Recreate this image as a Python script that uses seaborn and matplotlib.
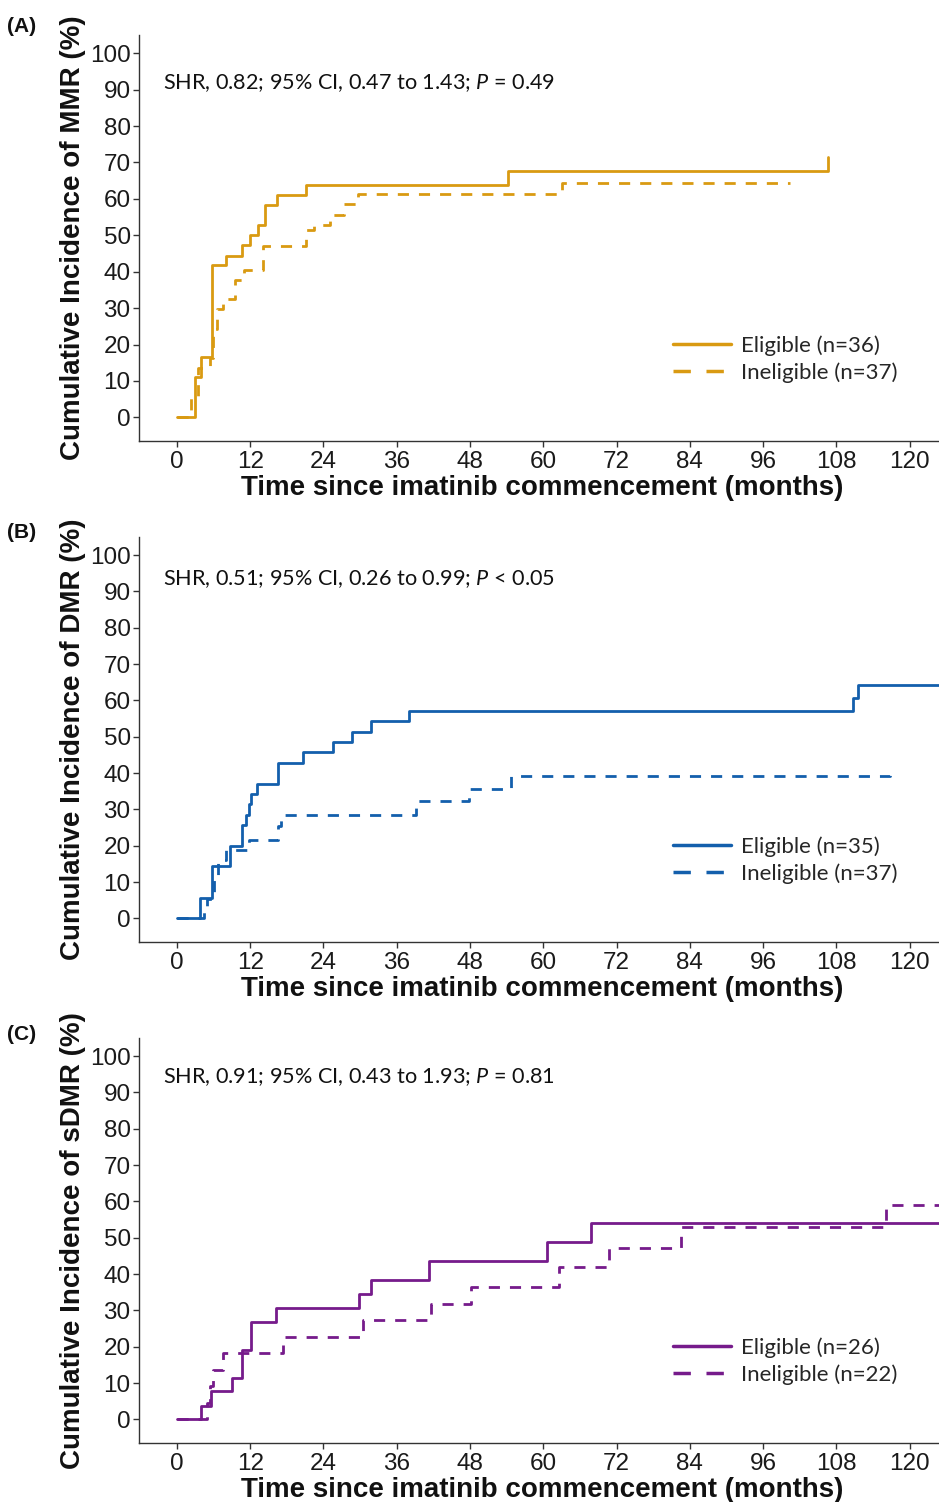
import numpy as np
import pandas as pd
import matplotlib
matplotlib.use("Agg")
import matplotlib.pyplot as plt
from matplotlib.lines import Line2D
import seaborn as sns

# ---------------- data ----------------
month_ticks = [0, 12, 24, 36, 48, 60, 72, 84, 96, 108, 120]
pct_ticks = [0, 10, 20, 30, 40, 50, 60, 70, 80, 90, 100]

# (A) MMR
mmr_elig_t = [0, 2.9, 4.0, 5.7, 8.1, 10.6, 11.9, 13.3, 14.5, 16.4, 21.1, 54.2, 106.6]
mmr_elig_ci = [0, 11.1, 16.7, 41.7, 44.4, 47.2, 50.0, 52.8, 58.3, 61.1, 63.9, 67.6, 71.4]
mmr_inel_t = [0, 2.3, 3.5, 5.5, 5.9, 6.6, 7.6, 9.6, 11.0, 14.1, 21.1, 22.5, 25.0, 27.4, 29.7, 63.0, 100.4]
mmr_inel_ci = [0, 5.4, 13.5, 16.2, 24.3, 29.7, 32.4, 37.8, 40.5, 47.0, 51.4, 52.9, 55.7, 58.5, 61.3, 64.3, 64.3]

# (B) DMR
dmr_elig_t = [0, 3.8, 5.7, 8.7, 10.6, 11.4, 11.8, 12.1, 13.2, 16.6, 20.6, 25.5, 28.7, 31.8, 38.0, 110.7, 111.6, 130]
dmr_elig_ci = [0, 5.7, 14.3, 20.0, 25.7, 28.6, 31.4, 34.3, 37.1, 42.9, 45.7, 48.6, 51.4, 54.3, 57.1, 60.6, 64.3, 64.3]
dmr_inel_t = [0, 4.5, 5.0, 6.0, 6.8, 8.0, 11.8, 16.5, 17.0, 39.1, 47.9, 54.7, 116.7]
dmr_inel_ci = [0, 2.7, 5.4, 10.8, 16.2, 18.9, 21.6, 25.5, 28.6, 32.2, 35.6, 39.3, 41.5]

# (C) sDMR
sdmr_elig_t = [0, 3.9, 5.6, 9.1, 10.7, 12.2, 16.2, 29.8, 31.8, 41.3, 60.6, 67.8, 130]
sdmr_elig_ci = [0, 3.8, 7.7, 11.5, 19.2, 26.9, 30.8, 34.6, 38.5, 43.7, 48.8, 54.0, 54.0]
sdmr_inel_t = [0, 4.9, 5.4, 5.9, 7.6, 17.3, 30.4, 41.6, 48.1, 62.5, 70.8, 82.5, 116.2, 130]
sdmr_inel_ci = [0, 4.5, 9.1, 13.6, 18.2, 22.7, 27.3, 31.8, 36.4, 42.0, 47.1, 53.1, 58.9, 58.9]

panel_tags = ["(A)", "(B)", "(C)"]
endpoints = ["MMR", "DMR", "sDMR"]
stats_text = [
    "SHR, 0.82; 95% CI, 0.47 to 1.43; $P$ = 0.49",
    "SHR, 0.51; 95% CI, 0.26 to 0.99; $P$ < 0.05",
    "SHR, 0.91; 95% CI, 0.43 to 1.93; $P$ = 0.81",
]
legend_labels = [
    ["Eligible (n=36)", "Ineligible (n=37)"],
    ["Eligible (n=35)", "Ineligible (n=37)"],
    ["Eligible (n=26)", "Ineligible (n=22)"],
]
colors = ["#D99A12", "#135FAC", "#761B8B"]

series = [
    ((mmr_elig_t, mmr_elig_ci), (mmr_inel_t, mmr_inel_ci)),
    ((dmr_elig_t, dmr_elig_ci), (dmr_inel_t, dmr_inel_ci)),
    ((sdmr_elig_t, sdmr_elig_ci), (sdmr_inel_t, sdmr_inel_ci)),
]

# ---------------- style ----------------
sns.set_style("ticks")
plt.rcParams['font.family'] = ['Liberation Sans', 'DejaVu Sans']
plt.rcParams['mathtext.fontset'] = 'custom'
plt.rcParams['mathtext.it'] = 'Lato:italic'
plt.rcParams['mathtext.rm'] = 'Lato'
plt.rcParams['axes.edgecolor'] = '#333333'

W, H = 939, 1502
fig = plt.figure(figsize=(W / 100, H / 100), dpi=100)

# panel geometry in pixels: (top, bottom)
panel_px = [(35, 441), (537, 942), (1038, 1443)]
left_px, right_px = 139, 939

annot_y = [83, 579, 1077]
tag_y = [27, 533, 1034]

lw = 2.0
dash = (4.0, 3.6)

for i in range(3):
    top, bot = panel_px[i]
    ax = fig.add_axes([left_px / W, 1 - bot / H, (right_px - left_px) / W, (bot - top) / H])
    col = colors[i]
    (et, eci), (it, ici) = series[i]
    sns.lineplot(x=et, y=eci, ax=ax, color=col, drawstyle='steps-post',
                 estimator=None, sort=False, linewidth=lw, linestyle='-')
    sns.lineplot(x=it, y=ici, ax=ax, color=col, drawstyle='steps-post',
                 estimator=None, sort=False, linewidth=lw, linestyle=(0, dash))
    ax.set_xlim(-6.2, 124.8)
    ax.set_ylim(-6.5, 105)
    ax.set_xticks(month_ticks)
    ax.set_yticks(pct_ticks)
    ax.tick_params(axis='both', labelsize=17.5, length=4, width=1, direction='out',
                   colors='#333333', labelcolor='#1a1a1a')
    ax.tick_params(axis='x', pad=3)
    ax.tick_params(axis='y', pad=2)
    sns.despine(ax=ax)
    for s in ['left', 'bottom']:
        ax.spines[s].set_linewidth(1.0)

    ax.set_xlabel("Time since imatinib commencement (months)", fontsize=20,
                  fontweight='bold', color='#111111')
    ax.set_ylabel(f"Cumulative Incidence of {endpoints[i]} (%)", fontsize=20,
                  fontweight='bold', color='#111111')
    ax.xaxis.set_label_coords((542 - left_px) / (right_px - left_px), -(475 - 441) / 406)
    ax.yaxis.set_label_coords(-(left_px - 86) / (right_px - left_px), 0.5)

    handles = [Line2D([], [], color=col, lw=2.5, linestyle='-'),
               Line2D([], [], color=col, lw=2.5, linestyle=(0, (5, 4.5)))]
    ax.legend(handles, legend_labels[i], loc='center left',
              bbox_to_anchor=((673 - left_px) / (right_px - left_px), 1 - (359 - 35) / 406),
              frameon=False, borderpad=0, borderaxespad=0,
              prop={'family': 'Lato', 'size': 16},
              handlelength=2.6, handletextpad=0.45, labelspacing=0.3)

    fig.text(163 / W, 1 - annot_y[i] / H, stats_text[i], family='Lato', fontsize=15.6,
             ha='left', va='center', color='#111111')
    fig.text(7 / W, 1 - tag_y[i] / H, panel_tags[i], fontsize=15, fontweight='bold',
             ha='left', va='center', color='#111111')

fig.savefig("out.png", dpi=100)
